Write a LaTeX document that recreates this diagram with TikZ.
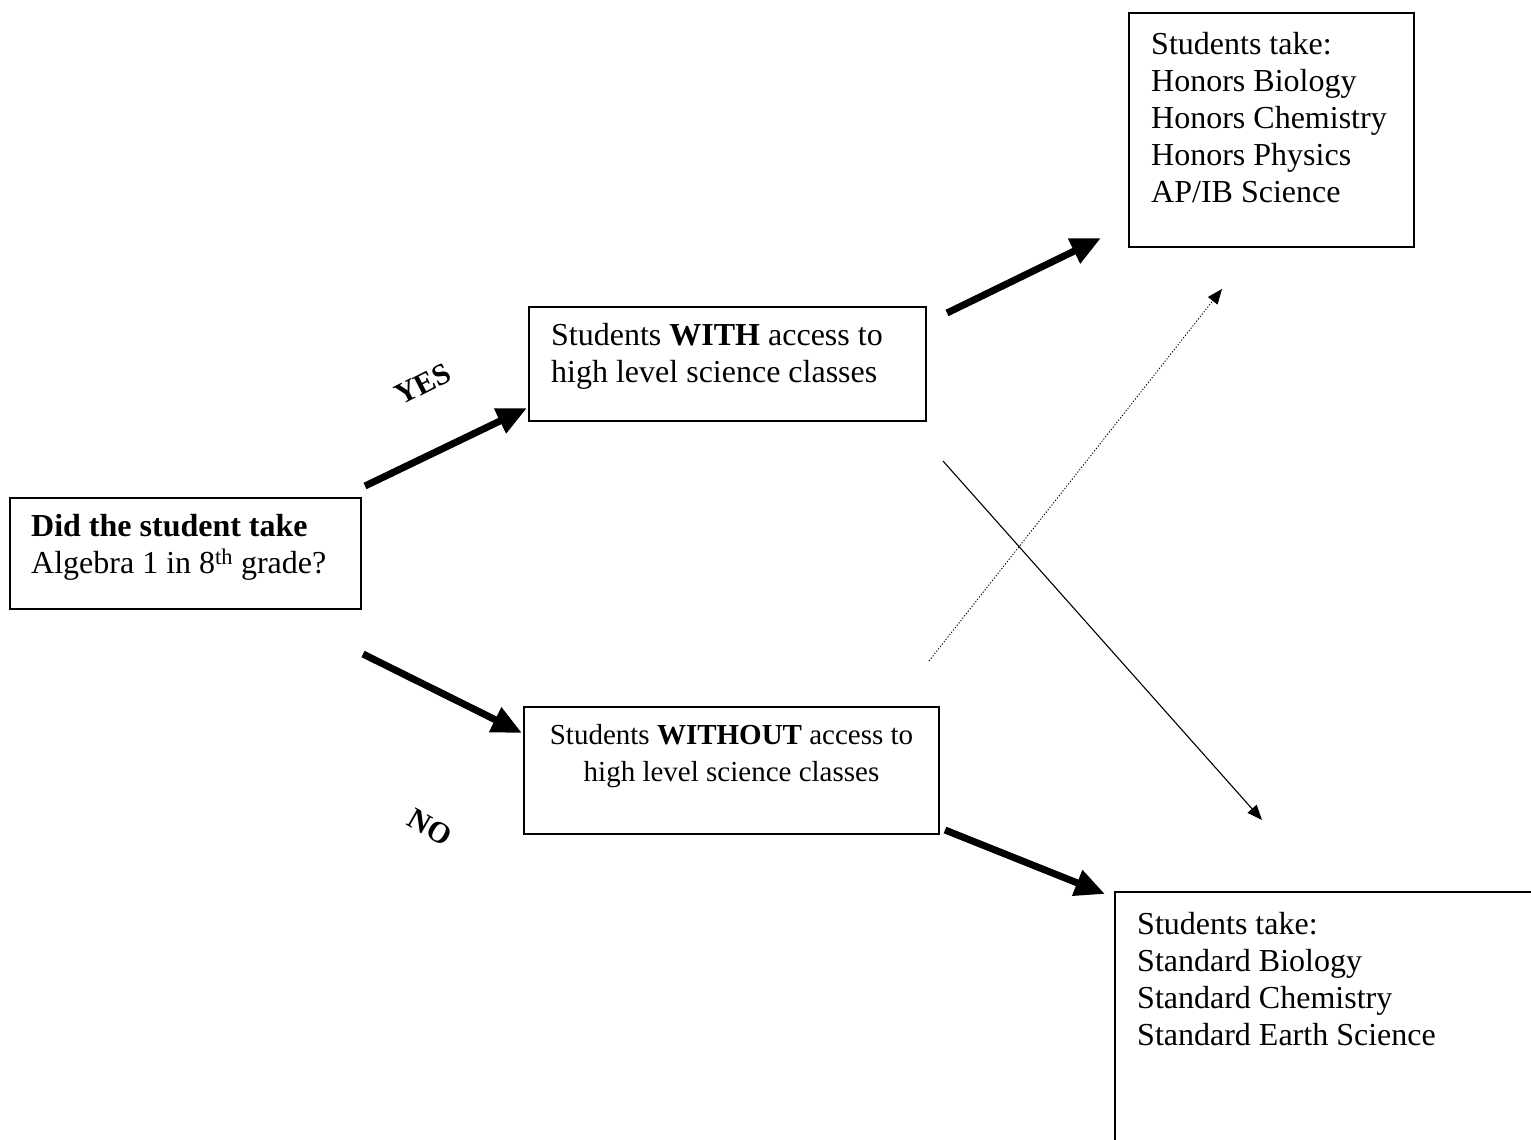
\documentclass[tikz,border=0pt]{standalone}
\usepackage{fontspec}
\setmainfont{Liberation Serif}
\usetikzlibrary{arrows.meta}
\begin{document}
\begin{tikzpicture}[x=1pt,y=-1pt,
  box/.style={draw, line width=1.6pt, anchor=north west, inner sep=0pt, outer sep=0pt},
  txt/.style={anchor=north west, inner sep=0pt, align=left, font=\fontsize{32}{37}\selectfont},
  smalltxt/.style={anchor=north, inner sep=0pt, align=center, font=\fontsize{29}{37}\selectfont},
  lbl/.style={inner sep=0pt, font=\fontsize{30}{30}\selectfont\bfseries},
  bigarrow/.style={line width=7pt, -{Triangle[length=30pt,width=26pt]}},
  thinarrow/.style={line width=1.1pt, -{Triangle[length=15pt,width=12pt]}},
  dotarrow/.style={line width=0.9pt, dash pattern=on 1.2pt off 1.8pt, -{Triangle[length=15pt,width=12pt,sep=0pt]}}]
\useasboundingbox (0,0) rectangle (1531,1140);
\fill[white] (0,0) rectangle (1531,1140);

% boxes
\node[box, minimum width=351pt, minimum height=111pt] (qbox) at (10,498) {};
\node[box, minimum width=397pt, minimum height=114pt] (withbox) at (529,307) {};
\node[box, minimum width=415pt, minimum height=127pt] (withoutbox) at (524,707) {};
\node[box, minimum width=285pt, minimum height=234pt] (honbox) at (1129,13) {};
\node[box, minimum width=450pt, minimum height=300pt] (stdbox) at (1115,892) {};

% texts
\node[txt] (qtxt) at (31,514) {\textbf{Did the student take}\\Algebra 1 in 8\textsuperscript{th} grade?};
\node[txt] (withtxt) at (551,323) {Students \textbf{WITH} access to\\high level science classes};
\node[smalltxt] (withouttxt) at (731.5,724) {Students \textbf{WITHOUT} access to\\high level science classes};
\node[txt] (hontxt) at (1151,32) {Students take:\\Honors Biology\\Honors Chemistry\\Honors Physics\\AP/IB Science};
\node[txt] (stdtxt) at (1137,912) {Students take:\\Standard Biology\\Standard Chemistry\\Standard Earth Science};

% labels
\node[lbl, rotate=27] (yes) at (423,384) {YES};
\node[lbl, rotate=-30] (no) at (430,827) {NO};

% connector end points
\coordinate (yesS) at (365,486);
\coordinate (yesE) at (527,408);
\coordinate (noS) at (363,654);
\coordinate (noE) at (522,733);
\coordinate (hS) at (947,313);
\coordinate (hE) at (1101,238);
\coordinate (sS) at (945,830);
\coordinate (sE) at (1105,894);
\coordinate (dS) at (929,661);
\coordinate (dE) at (1222,289);
\coordinate (tS) at (943,461);
\coordinate (tE) at (1262,820);

\draw[bigarrow] (yesS) -- (yesE);
\draw[bigarrow] (noS) -- (noE);
\draw[bigarrow] (hS) -- (hE);
\draw[bigarrow] (sS) -- (sE);
\draw[dotarrow] (dS) -- (dE);
\draw[thinarrow] (tS) -- (tE);
\end{tikzpicture}
\end{document}
